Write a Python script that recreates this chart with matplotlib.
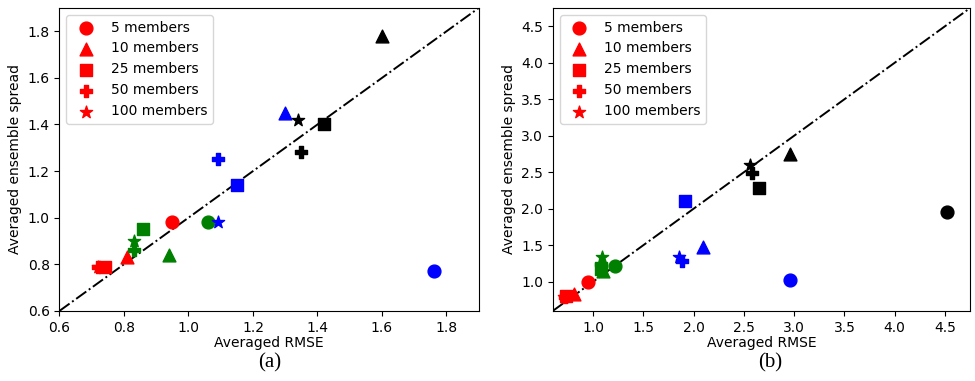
import numpy as np
import matplotlib
matplotlib.use('Agg')
import matplotlib.pyplot as plt

markers = ['o', '^', 's', 'P', '*']
member_labels = ['5 members', '10 members', '25 members', '50 members', '100 members']
colors = ['red', 'green', 'blue', 'black']

# panel (a): one row per colour, one column per ensemble size (o, ^, s, P, *)
rmse_a = [[0.95, 0.81, 0.74, 0.72, 0.72],
          [1.06, 0.94, 0.86, 0.83, 0.83],
          [1.76, 1.30, 1.15, 1.09, 1.09],
          [np.nan, 1.60, 1.42, 1.35, 1.34]]
spread_a = [[0.98, 0.83, 0.79, 0.79, 0.79],
            [0.98, 0.84, 0.95, 0.86, 0.90],
            [0.77, 1.45, 1.14, 1.25, 0.98],
            [np.nan, 1.78, 1.40, 1.28, 1.42]]

# panel (b)
rmse_b = [[0.95, 0.81, 0.73, 0.72, 0.71],
          [1.22, 1.10, 1.08, 1.08, 1.09],
          [2.96, 2.09, 1.91, 1.88, 1.85],
          [4.52, 2.96, 2.65, 2.58, 2.56]]
spread_b = [[0.99, 0.83, 0.80, 0.79, 0.79],
            [1.21, 1.15, 1.17, 1.24, 1.34],
            [1.03, 1.47, 2.10, 1.29, 1.34],
            [1.96, 2.75, 2.28, 2.49, 2.60]]

lims_a = (0.6, 1.9)
lims_b = (0.6, 4.75)

fig = plt.figure(figsize=(9.75, 3.81), dpi=100)
ax1 = fig.add_axes([0.061, 0.184, 0.430, 0.795])
ax2 = fig.add_axes([0.567, 0.184, 0.428, 0.795])


def panel(ax, rmse, spread, lims):
    for i, c in enumerate(colors):
        for j, m in enumerate(markers):
            label = member_labels[j] if c == 'red' else None
            ax.scatter(rmse[i][j], spread[i][j], c=c, marker=m, s=85,
                       label=label, zorder=3)
    ax.plot(lims, lims, 'k-.', lw=1.4, zorder=2)
    ax.set_xlim(lims)
    ax.set_ylim(lims)
    ax.set_xlabel('Averaged RMSE', labelpad=1)
    ax.set_ylabel('Averaged ensemble spread')
    ax.legend(loc='upper left', scatterpoints=1)


panel(ax1, rmse_a, spread_a, lims_a)
panel(ax2, rmse_b, spread_b, lims_b)
ax2.set_xticks([1.0, 1.5, 2.0, 2.5, 3.0, 3.5, 4.0, 4.5])
ax2.set_yticks([1.0, 1.5, 2.0, 2.5, 3.0, 3.5, 4.0, 4.5])

fig.text(0.277, 0.048, '(a)', ha='center', va='center', fontsize=15,
         family='Liberation Serif')
fig.text(0.79, 0.048, '(b)', ha='center', va='center', fontsize=15,
         family='Liberation Serif')

fig.savefig('out.png', dpi=100)
